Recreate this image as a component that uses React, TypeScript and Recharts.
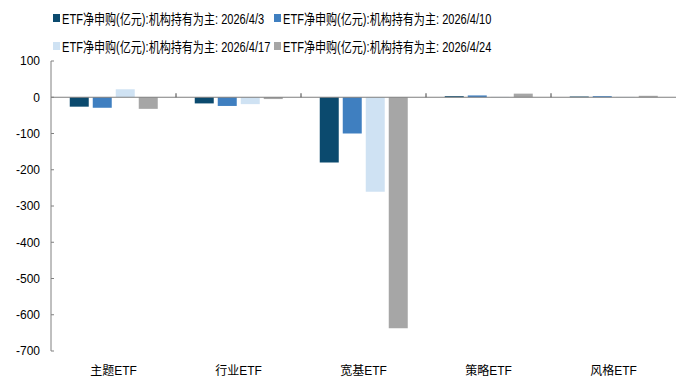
import React from 'react';
import { BarChart, Bar, XAxis, YAxis, ReferenceLine } from 'recharts';

const categories = ['主题ETF', '行业ETF', '宽基ETF', '策略ETF', '风格ETF'];
const seriesNames = [
  'ETF净申购(亿元):机构持有为主: 2026/4/3',
  'ETF净申购(亿元):机构持有为主: 2026/4/10',
  'ETF净申购(亿元):机构持有为主: 2026/4/17',
  'ETF净申购(亿元):机构持有为主: 2026/4/24',
];
const apr3 = [-26, -17, -180, 3, 2];
const apr10 = [-29, -24, -100, 5, 3];
const apr17 = [22, -19, -261, 1, 1];
const apr24 = [-32, -5, -637, 10, 4];
const yTicks = [100, 0, -100, -200, -300, -400, -500, -600, -700];

const colors = ['#0B4A6E', '#3F7FC0', '#CFE2F3', '#A6A6A6'];
const seriesValues = [apr3, apr10, apr17, apr24];

const data = categories.map((name, i) => ({
  name,
  s0: apr3[i],
  s1: apr10[i],
  s2: apr17[i],
  s3: apr24[i],
}));

const font = '"Liberation Sans", Arial, "Noto Sans CJK SC", sans-serif';

// zero line with small tick marks between categories
const ZeroLine = (props: any) => {
  const { x1, x2, y1 } = props;
  if (x1 == null) return null;
  const step = (x2 - x1) / categories.length;
  const marks = [];
  for (let i = 1; i < categories.length; i++) {
    const x = x1 + step * i;
    marks.push(<line key={i} x1={x} x2={x} y1={y1} y2={y1 - 4} stroke="#404040" />);
  }
  return (
    <g>
      <line x1={x1} x2={x2} y1={y1} y2={y1} stroke="#7F7F7F" />
      {marks}
    </g>
  );
};

export default function App() {
  return (
    <div style={{ position: 'absolute', left: 0, top: 0, width: 676, height: 378, background: '#fff' }}>
      <div
        style={{
          position: 'absolute',
          left: 53,
          top: 9,
          width: 450,
          display: 'flex',
          flexWrap: 'wrap',
          rowGap: 10,
          fontFamily: font,
          fontSize: 14,
          color: '#000',
          zIndex: 2,
        }}
      >
        {seriesNames.map((n, i) => (
          <div key={n} style={{ width: 221, display: 'flex', alignItems: 'center', height: 18, whiteSpace: 'nowrap' }}>
            <span style={{ flex: '0 0 7px', width: 7, height: 8, background: colors[i], marginRight: 2 }} />
            <span style={{ display: 'inline-block', transform: 'scaleX(0.79)', transformOrigin: 'left center' }}>{n}</span>
          </div>
        ))}
      </div>
      <BarChart
        width={676}
        height={378}
        data={data}
        margin={{ top: 61, right: 0, left: 0, bottom: 0 }}
        barCategoryGap="15%"
        barGap={4}
      >
        <YAxis
          width={51}
          domain={[-700, 100]}
          ticks={yTicks}
          interval={0}
          axisLine={{ stroke: '#808080' }}
          tickLine={{ stroke: '#808080' }}
          tickSize={-3}
          tickMargin={14}
          tick={{ fontSize: 12, fill: '#000', fontFamily: font }}
        />
        <XAxis
          dataKey="name"
          height={27}
          axisLine={false}
          tickLine={false}
          tick={{ fontSize: 12, fill: '#000', fontFamily: font }}
          tickMargin={9}
        />
        {seriesValues.map((_, i) => (
          <Bar key={i} dataKey={`s${i}`} name={seriesNames[i]} fill={colors[i]} isAnimationActive={false} />
        ))}
        <ReferenceLine y={0} shape={ZeroLine} />
      </BarChart>
    </div>
  );
}
